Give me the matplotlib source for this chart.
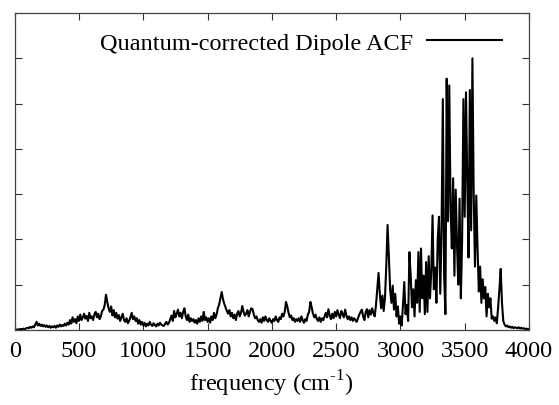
import numpy as np
import matplotlib
matplotlib.use("Agg")
import matplotlib.pyplot as plt

plt.rcParams['font.family'] = ['Liberation Serif', 'DejaVu Serif']
plt.rcParams['mathtext.fontset'] = 'custom'
plt.rcParams['mathtext.rm'] = 'Liberation Serif'

# spectrum sampled every 10 cm^-1, values in units of the y tick spacing
freq = np.arange(0, 4001, 10)
acf = [
    0.01, 0.01, 0.01, 0.01, 0.02, 0.02, 0.02, 0.03, 0.02, 0.04,
    0.05, 0.04, 0.07, 0.05, 0.08, 0.06, 0.12, 0.18, 0.10, 0.14,
    0.09, 0.12, 0.08, 0.11, 0.07, 0.10, 0.06, 0.09, 0.05, 0.08,
    0.06, 0.09, 0.05, 0.10, 0.07, 0.12, 0.08, 0.11, 0.09, 0.14,
    0.10, 0.16, 0.12, 0.22, 0.14, 0.28, 0.18, 0.24, 0.15, 0.30,
    0.20, 0.34, 0.22, 0.28, 0.36, 0.25, 0.31, 0.20, 0.38, 0.26,
    0.30, 0.22, 0.35, 0.40, 0.28, 0.36, 0.24, 0.30, 0.42, 0.45,
    0.55, 0.78, 0.62, 0.48, 0.40, 0.52, 0.32, 0.44, 0.28, 0.38,
    0.25, 0.33, 0.20, 0.28, 0.36, 0.22, 0.18, 0.26, 0.15, 0.20,
    0.28, 0.38, 0.24, 0.30, 0.20, 0.26, 0.14, 0.22, 0.12, 0.18,
    0.10, 0.16, 0.08, 0.14, 0.10, 0.18, 0.12, 0.09, 0.15, 0.11,
    0.08, 0.14, 0.10, 0.16, 0.12, 0.10, 0.09, 0.14, 0.18, 0.12,
    0.16, 0.24, 0.32, 0.20, 0.42, 0.28, 0.36, 0.45, 0.30, 0.38,
    0.26, 0.40, 0.48, 0.30, 0.22, 0.34, 0.18, 0.26, 0.20, 0.24,
    0.16, 0.22, 0.14, 0.26, 0.18, 0.30, 0.20, 0.40, 0.22, 0.28,
    0.18, 0.26, 0.16, 0.30, 0.22, 0.38, 0.26, 0.34, 0.48, 0.56,
    0.70, 0.84, 0.68, 0.58, 0.50, 0.42, 0.36, 0.44, 0.30, 0.38,
    0.26, 0.34, 0.22, 0.36, 0.42, 0.30, 0.38, 0.53, 0.40, 0.32,
    0.36, 0.44, 0.30, 0.40, 0.48, 0.46, 0.34, 0.26, 0.30, 0.22,
    0.18, 0.24, 0.16, 0.28, 0.20, 0.30, 0.22, 0.18, 0.26, 0.20,
    0.16, 0.24, 0.20, 0.30, 0.22, 0.18, 0.28, 0.24, 0.36, 0.30,
    0.40, 0.62, 0.52, 0.38, 0.28, 0.32, 0.22, 0.26, 0.18, 0.24,
    0.20, 0.26, 0.18, 0.30, 0.22, 0.16, 0.24, 0.20, 0.34, 0.40,
    0.62, 0.50, 0.36, 0.28, 0.34, 0.24, 0.20, 0.28, 0.18, 0.26,
    0.22, 0.30, 0.38, 0.28, 0.46, 0.32, 0.24, 0.36, 0.26, 0.40,
    0.30, 0.44, 0.34, 0.26, 0.42, 0.36, 0.28, 0.45, 0.32, 0.24,
    0.30, 0.22, 0.28, 0.20, 0.26, 0.22, 0.18, 0.26, 0.34, 0.40,
    0.45, 0.30, 0.22, 0.40, 0.46, 0.28, 0.44, 0.34, 0.48, 0.38,
    0.30, 0.55, 0.90, 1.26, 0.80, 0.48, 0.76, 0.42, 0.72, 1.40,
    2.32, 1.64, 0.90, 0.60, 0.98, 0.45, 0.80, 0.30, 0.52, 0.14,
    0.30, 0.10, 0.55, 1.06, 0.35, 0.55, 0.20, 1.72, 1.20, 0.50,
    0.90, 0.30, 1.10, 0.60, 1.72, 0.40, 1.80, 0.70, 1.20, 0.35,
    1.50, 0.40, 1.63, 0.70, 1.30, 2.53, 0.90, 1.38, 0.60, 2.00,
    2.50, 0.80, 2.20, 5.10, 1.20, 0.35, 5.55, 2.40, 5.40, 2.70,
    1.80, 3.35, 1.20, 3.10, 1.90, 1.00, 2.90, 0.70, 2.00, 5.10,
    2.50, 5.25, 3.30, 1.60, 5.30, 2.20, 6.00, 3.00, 1.40, 2.97,
    1.80, 0.85, 1.40, 0.60, 1.12, 0.70, 0.95, 0.30, 0.80, 0.50,
    0.70, 0.25, 0.30, 0.20, 0.28, 0.15, 0.50, 0.90, 1.35, 0.60,
    0.20, 0.12, 0.08, 0.10, 0.06, 0.08, 0.05, 0.07, 0.04, 0.06,
    0.05, 0.04, 0.06, 0.03, 0.05, 0.03, 0.04, 0.02, 0.03, 0.02,
    0.02,
]
xticks = [0, 500, 1000, 1500, 2000, 2500, 3000, 3500, 4000]
yticks = [0, 1, 2, 3, 4, 5, 6, 7]

fig = plt.figure(figsize=(5.59, 4.06), dpi=100)
ax = fig.add_axes([0.0263, 0.1847, 0.92, 0.7808])

ax.plot(freq, acf, color='black', lw=1.5, label='Quantum-corrected Dipole ACF')

ax.set_xlim(0, 4000)
ax.set_ylim(0, 7)
ax.set_xticks(xticks)
ax.set_yticks(yticks)
ax.set_yticklabels([])
ax.tick_params(direction='in', top=True, right=True, length=5, width=0.8,
               labelsize=17.5, pad=7, color='#333333')
for s in ax.spines.values():
    s.set_linewidth(0.9)
    s.set_color('#444444')

ax.set_xlabel(r'frequency (cm$^{\text{-1}}$)', fontsize=17.5, labelpad=5)

ax.legend(loc='upper right', bbox_to_anchor=(0.99, 1.01), frameon=False,
          markerfirst=False, fontsize=17.5, handlelength=3.1, handletextpad=0.55)

fig.savefig('out.png', dpi=100)
